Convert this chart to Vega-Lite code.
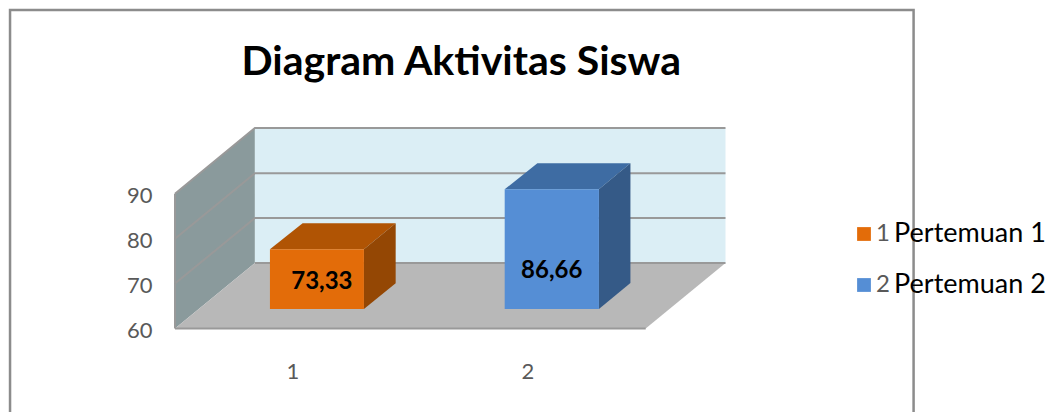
{"$schema":"https://vega.github.io/schema/vega-lite/v6.json","width":550.5,"height":200.5,"autosize":"none","padding":{"left":175,"top":128,"right":331.5,"bottom":83.5},"background":"white","config":{"view":{"stroke":null},"font":"Lato"},"title":{"text":"Diagram Aktivitas Siswa","font":"Lato","fontSize":41,"fontWeight":"bold","color":"#000000","anchor":"middle","frame":"group","dx":11,"offset":-75},"datasets":{"bingkai":[{"x":-0.202,"x2":3.643,"y":130.93,"y2":30}],"latar":[{"part":"dinding samping","x":0.5,"v":60,"o":1},{"part":"dinding samping","x":0.5,"v":90,"o":2},{"part":"dinding samping","x":0.84,"v":104.65,"o":3},{"part":"dinding samping","x":0.84,"v":74.6,"o":4},{"part":"dinding belakang","x":0.84,"v":74.6,"o":1},{"part":"dinding belakang","x":0.84,"v":104.65,"o":2},{"part":"dinding belakang","x":2.8426,"v":104.65,"o":3},{"part":"dinding belakang","x":2.8426,"v":74.6,"o":4},{"part":"lantai","x":0.5,"v":60,"o":1},{"part":"lantai","x":0.84,"v":74.6,"o":2},{"part":"lantai","x":2.8426,"v":74.6,"o":3},{"part":"lantai","x":2.503,"v":60,"o":4}],"grid":[{"g":"60a","x":0.5,"v":60,"o":1},{"g":"60a","x":2.503,"v":60,"o":2},{"g":"60b","x":0.84,"v":74.6,"o":1},{"g":"60b","x":2.8426,"v":74.6,"o":2},{"g":"60c","x":0.5,"v":60,"o":1},{"g":"60c","x":0.5,"v":90,"o":2},{"g":"70","x":0.5,"v":70,"o":1},{"g":"70","x":0.84,"v":84.6,"o":2},{"g":"70","x":2.8426,"v":84.6,"o":3},{"g":"80","x":0.5,"v":80,"o":1},{"g":"80","x":0.84,"v":94.6,"o":2},{"g":"80","x":2.8426,"v":94.6,"o":3},{"g":"90","x":0.5,"v":90,"o":1},{"g":"90","x":0.84,"v":104.65,"o":2},{"g":"90","x":2.8426,"v":104.65,"o":3}],"sisi":[{"part":"1 atas","x":0.904,"v":77.64,"o":1},{"part":"1 atas","x":1.043,"v":83.43,"o":2},{"part":"1 atas","x":1.439,"v":83.43,"o":3},{"part":"1 atas","x":1.304,"v":77.64,"o":4},{"part":"1 sisi","x":1.304,"v":77.64,"o":1},{"part":"1 sisi","x":1.439,"v":83.43,"o":2},{"part":"1 sisi","x":1.439,"v":70.07,"o":3},{"part":"1 sisi","x":1.304,"v":64.34,"o":4},{"part":"2 atas","x":1.903,"v":91,"o":1},{"part":"2 atas","x":2.042,"v":96.79,"o":2},{"part":"2 atas","x":2.438,"v":96.79,"o":3},{"part":"2 atas","x":2.304,"v":91,"o":4},{"part":"2 sisi","x":2.304,"v":91,"o":1},{"part":"2 sisi","x":2.438,"v":96.79,"o":2},{"part":"2 sisi","x":2.438,"v":70.13,"o":3},{"part":"2 sisi","x":2.304,"v":64.34,"o":4}],"batang":[{"part":"1","x":0.904,"x2":1.304,"dasar":64.34,"puncak":77.64,"nilai":"73,33","lx":1.125,"lv":70.3},{"part":"2","x":1.903,"x2":2.304,"dasar":64.34,"puncak":91,"nilai":"86,66","lx":2.103,"lv":72.75}],"teks":[{"teks":"Pertemuan 1","x":3.56,"v":81.0},{"teks":"Pertemuan 2","x":3.56,"v":69.6}]},"layer":[{"data":{"name":"bingkai"},"mark":{"type":"rect","fill":null,"stroke":"#8c8c8c","strokeWidth":2.5},"encoding":{"x":{"field":"x","type":"quantitative"},"x2":{"field":"x2"},"y":{"field":"y","type":"quantitative"},"y2":{"field":"y2"}}},{"data":{"name":"latar"},"mark":{"type":"line","interpolate":"linear-closed","strokeWidth":0},"encoding":{"x":{"field":"x","type":"quantitative","scale":{"domain":[0.5,2.8426],"nice":false,"zero":false},"axis":{"values":[1,2],"format":"d","title":null,"domain":false,"ticks":false,"grid":false,"labelFont":"Lato","labelFontSize":22,"labelColor":"#595959","labelPadding":33}},"y":{"field":"v","type":"quantitative","scale":{"domain":[60,104.65],"nice":false,"zero":false},"axis":{"values":[60,70,80,90],"title":null,"domain":false,"ticks":false,"grid":false,"labelFont":"Lato","labelFontSize":22,"labelColor":"#595959","labelPadding":23,"labelOffset":2}},"detail":{"field":"part"},"order":{"field":"o","type":"quantitative"},"fill":{"field":"part","type":"nominal"}}},{"data":{"name":"grid"},"mark":{"type":"line","stroke":"#999999","strokeWidth":2},"encoding":{"x":{"field":"x","type":"quantitative"},"y":{"field":"v","type":"quantitative"},"detail":{"field":"g"},"order":{"field":"o","type":"quantitative"}}},{"data":{"name":"sisi"},"mark":{"type":"line","interpolate":"linear-closed","strokeWidth":0},"encoding":{"x":{"field":"x","type":"quantitative"},"y":{"field":"v","type":"quantitative"},"detail":{"field":"part"},"order":{"field":"o","type":"quantitative"},"fill":{"field":"part","type":"nominal"}}},{"data":{"name":"batang"},"mark":{"type":"rect"},"encoding":{"x":{"field":"x","type":"quantitative"},"x2":{"field":"x2"},"y":{"field":"dasar","type":"quantitative"},"y2":{"field":"puncak"},"fill":{"field":"part","type":"nominal","scale":{"domain":["dinding samping","dinding belakang","lantai","1 atas","1 sisi","2 atas","2 sisi","1","2"],"range":["#8a9a9c","#dbeef5","#b8b8b8","#b05404","#944704","#3e6ca3","#355a87","#e36c09","#558ed5"]},"legend":{"values":["1","2"],"title":null,"orient":"none","legendX":677,"legendY":94,"symbolType":"square","symbolSize":190,"symbolStrokeWidth":0,"labelFont":"Lato","labelFontSize":24,"labelColor":"#595959","labelOffset":0,"rowPadding":27}}}},{"data":{"name":"batang"},"mark":{"type":"text","font":"Lato","fontWeight":"bold","fontSize":24,"color":"#000000"},"encoding":{"x":{"field":"lx","type":"quantitative"},"y":{"field":"lv","type":"quantitative"},"text":{"field":"nilai"}}},{"data":{"name":"teks"},"mark":{"type":"text","font":"Lato","fontSize":27,"align":"left","color":"#000000"},"encoding":{"x":{"field":"x","type":"quantitative"},"y":{"field":"v","type":"quantitative"},"text":{"field":"teks"}}}]}
